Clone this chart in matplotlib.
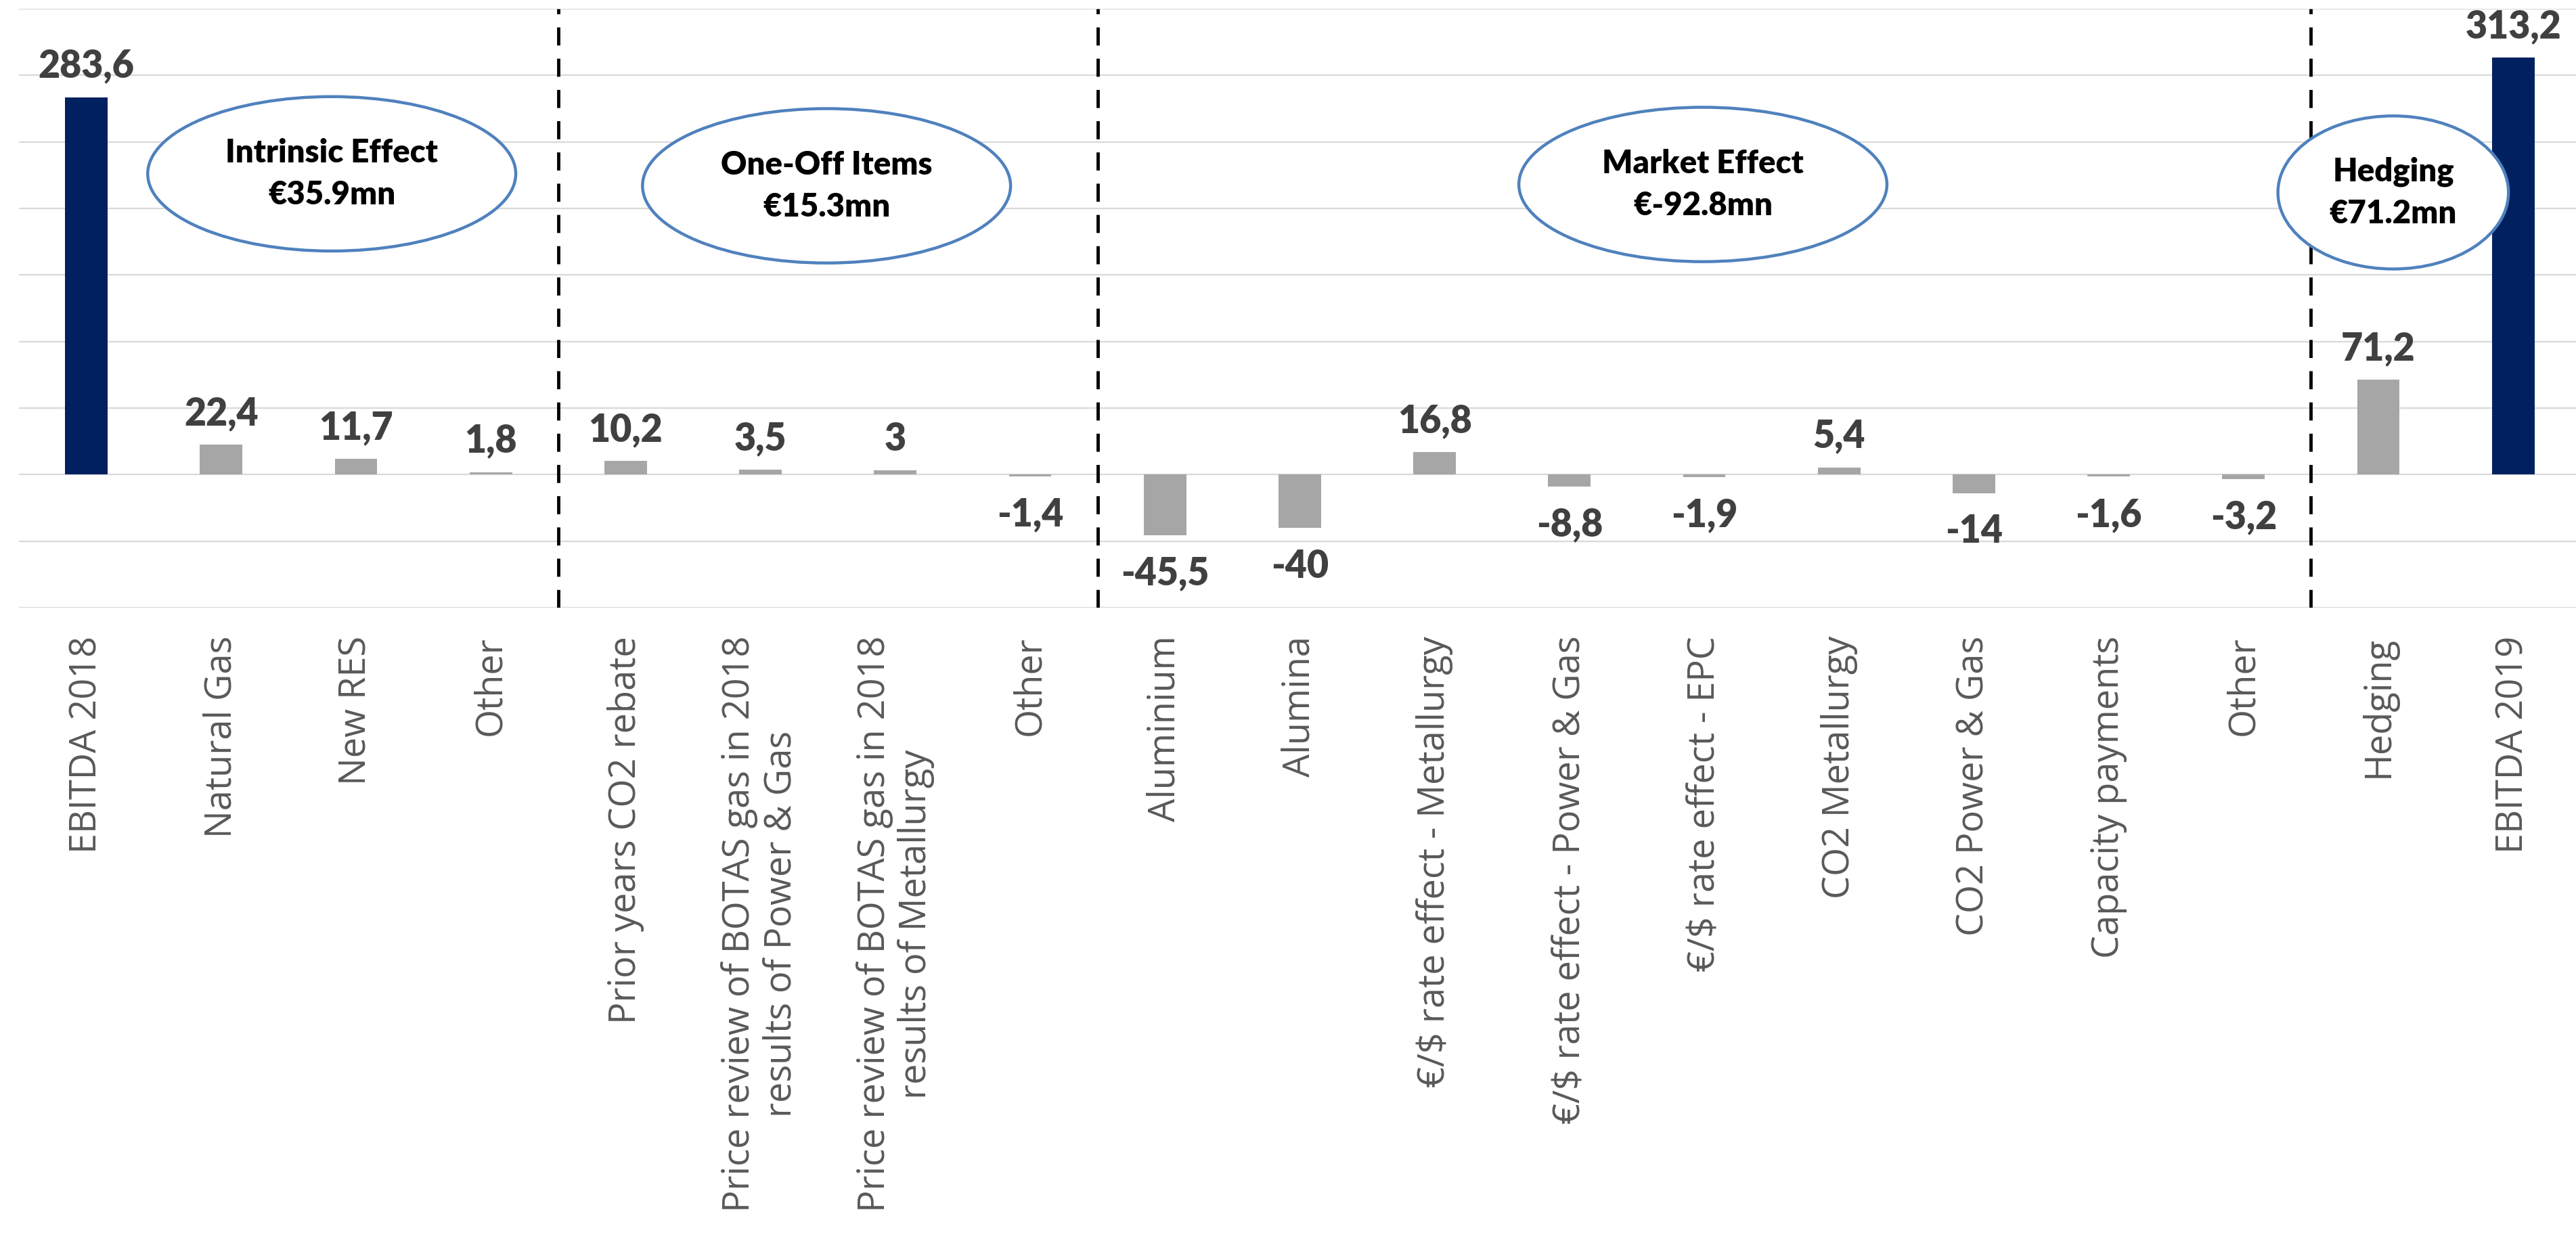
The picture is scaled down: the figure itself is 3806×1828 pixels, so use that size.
import matplotlib
matplotlib.use("Agg")
import matplotlib.pyplot as plt
from matplotlib.patches import Ellipse
import numpy as np

categories = [
    "EBITDA 2018", "Natural Gas", "New RES", "Other",
    "Prior years CO2 rebate",
    "Price review of BOTAS gas in 2018\nresults of Power & Gas",
    "Price review of BOTAS gas in 2018\nresults of Metallurgy",
    "Other", "Aluminium", "Alumina",
    "€/$ rate effect - Metallurgy", "€/$ rate effect - Power & Gas",
    "€/$ rate effect - EPC", "CO2 Metallurgy", "CO2 Power & Gas",
    "Capacity payments", "Other", "Hedging", "EBITDA 2019",
]
values = [283.6, 22.4, 11.7, 1.8, 10.2, 3.5, 3, -1.4, -45.5, -40,
          16.8, -8.8, -1.9, 5.4, -14, -1.6, -3.2, 71.2, 313.2]
is_total = [True] + [False] * 17 + [True]

group_separators = [3.5, 7.5, 16.5]
group_texts = ["Intrinsic Effect\n€35.9mn", "One-Off Items\n€15.3mn",
               "Market Effect\n€-92.8mn", "Hedging\n€71.2mn"]
group_centers = [(1.82, 226), (5.49, 217), (11.99, 218), (17.11, 212)]
group_widths = [2.73, 2.73, 2.73, 1.71]
group_heights = [116, 116, 116, 115]

NAVY = "#002060"
GRAY = "#A6A6A6"

fig = plt.figure(figsize=(38.06, 18.28), dpi=100)
ax = fig.add_axes([28 / 3806, 1 - 898 / 1828, 19 * 199.2 / 3806, (898 - 13) / 1828])

x = np.arange(len(categories))
colors = [NAVY if t else GRAY for t in is_total]
bars = ax.bar(x, values, width=0.315, color=colors, zorder=3)

ax.set_xlim(-0.5, len(categories) - 0.5)
ax.set_ylim(-100, 350)
ax.set_yticks(np.arange(-100, 351, 50))
ax.set_yticklabels([])
ax.tick_params(axis="y", length=0)
ax.grid(axis="y", color="#D9D9D9", linewidth=1.6, zorder=0)
ax.set_axisbelow(True)
for s in ax.spines.values():
    s.set_visible(False)

ax.set_xticks(x)
ax.set_xticklabels(categories, rotation=90, fontsize=39, color="#595959",
                   family=["Open Sans", "DejaVu Sans"], va="top", ha="center",
                   multialignment="center", linespacing=1.15)
ax.tick_params(axis="x", length=0, pad=30)

for xi, v in zip(x, values):
    lbl = f"{v:g}".replace(".", ",")
    if v >= 0:
        ax.annotate(lbl, (xi, v), xytext=(0, 21), textcoords="offset points",
                    ha="center", va="baseline", fontsize=40, fontweight="heavy",
                    color="#404040", family=["Lato", "DejaVu Sans"], zorder=5)
    else:
        ax.annotate(lbl, (xi, v), xytext=(0, -22), textcoords="offset points",
                    ha="center", va="top", fontsize=40, fontweight="heavy",
                    color="#404040", family=["Lato", "DejaVu Sans"], zorder=5)

for sx in group_separators:
    ax.axvline(sx, color="black", linewidth=3.5, linestyle=(0, (5.5, 4)), zorder=4)

for (cx, cy), w, h, t in zip(group_centers, group_widths, group_heights, group_texts):
    e = Ellipse((cx, cy), w, h, facecolor="white", edgecolor="#4F81BD",
                linewidth=3.2, zorder=6)
    ax.add_patch(e)
    ax.text(cx, cy, t, ha="center", va="center", fontsize=34, fontweight="heavy",
            color="black", family=["Lato", "DejaVu Sans"], linespacing=1.5,
            zorder=7)

fig.savefig("out.png", dpi=100)
